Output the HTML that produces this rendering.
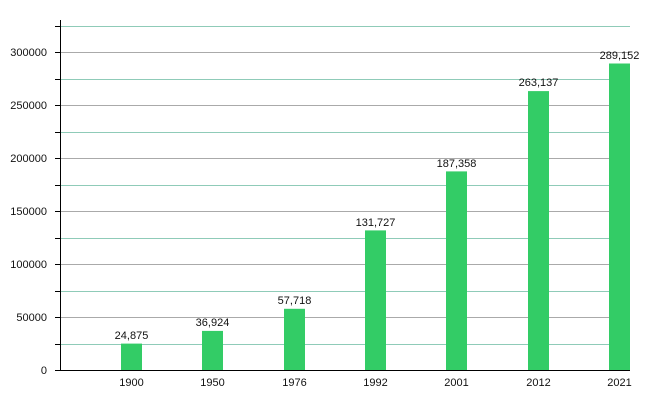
<!DOCTYPE html><html><head><style>body{margin:0;background:#fff}</style></head><body>
<svg width="650" height="400" xmlns="http://www.w3.org/2000/svg" font-family="Liberation Sans, sans-serif" font-size="11" fill="#111">
<g stroke-width="1">
<line x1="60" x2="630" y1="26.5" y2="26.5" stroke="#8fcbb8"/>
<line x1="60" x2="630" y1="79.5" y2="79.5" stroke="#8fcbb8"/>
<line x1="60" x2="630" y1="132.5" y2="132.5" stroke="#8fcbb8"/>
<line x1="60" x2="630" y1="185.5" y2="185.5" stroke="#8fcbb8"/>
<line x1="60" x2="630" y1="238.5" y2="238.5" stroke="#8fcbb8"/>
<line x1="60" x2="630" y1="291.5" y2="291.5" stroke="#8fcbb8"/>
<line x1="60" x2="630" y1="344.5" y2="344.5" stroke="#8fcbb8"/>
<line x1="60" x2="630" y1="52.5" y2="52.5" stroke="#aaa"/>
<line x1="60" x2="630" y1="105.5" y2="105.5" stroke="#aaa"/>
<line x1="60" x2="630" y1="158.5" y2="158.5" stroke="#aaa"/>
<line x1="60" x2="630" y1="211.5" y2="211.5" stroke="#aaa"/>
<line x1="60" x2="630" y1="264.5" y2="264.5" stroke="#aaa"/>
<line x1="60" x2="630" y1="317.5" y2="317.5" stroke="#aaa"/>
</g>
<g fill="#33cc66">
<rect x="121" y="343.6" width="21" height="26.4"/>
<rect x="202" y="330.9" width="21" height="39.1"/>
<rect x="284" y="308.8" width="21" height="61.2"/>
<rect x="365" y="230.4" width="21" height="139.6"/>
<rect x="446" y="171.4" width="21" height="198.6"/>
<rect x="528" y="91.1" width="21" height="278.9"/>
<rect x="609" y="63.5" width="21" height="306.5"/>
</g>
<g stroke="#000">
<line x1="60.5" x2="60.5" y1="20" y2="370"/>
<line x1="55" x2="630" y1="370.5" y2="370.5"/>
<line x1="55" x2="60" y1="26.5" y2="26.5"/><line x1="55" x2="60" y1="52.5" y2="52.5"/>
<line x1="55" x2="60" y1="79.5" y2="79.5"/><line x1="55" x2="60" y1="105.5" y2="105.5"/>
<line x1="55" x2="60" y1="132.5" y2="132.5"/><line x1="55" x2="60" y1="158.5" y2="158.5"/>
<line x1="55" x2="60" y1="185.5" y2="185.5"/><line x1="55" x2="60" y1="211.5" y2="211.5"/>
<line x1="55" x2="60" y1="238.5" y2="238.5"/><line x1="55" x2="60" y1="264.5" y2="264.5"/>
<line x1="55" x2="60" y1="291.5" y2="291.5"/><line x1="55" x2="60" y1="317.5" y2="317.5"/>
<line x1="55" x2="60" y1="344.5" y2="344.5"/>
</g>
<g text-anchor="end">
<text x="47" y="56">300000</text><text x="47" y="109">250000</text>
<text x="47" y="162">200000</text><text x="47" y="215">150000</text>
<text x="47" y="268">100000</text><text x="47" y="321">50000</text>
<text x="47" y="374">0</text>
</g>
<g text-anchor="middle">
<text x="131.5" y="386">1900</text><text x="212.5" y="386">1950</text>
<text x="294.5" y="386">1976</text><text x="375.5" y="386">1992</text>
<text x="456.5" y="386">2001</text><text x="538.5" y="386">2012</text>
<text x="619.5" y="386">2021</text>
<text x="131.5" y="339">24,875</text><text x="212.5" y="326">36,924</text>
<text x="294.5" y="304">57,718</text><text x="375.5" y="226">131,727</text>
<text x="456.5" y="167">187,358</text><text x="538.5" y="86">263,137</text>
<text x="619.5" y="59">289,152</text>
</g>
</svg>
</body></html>
